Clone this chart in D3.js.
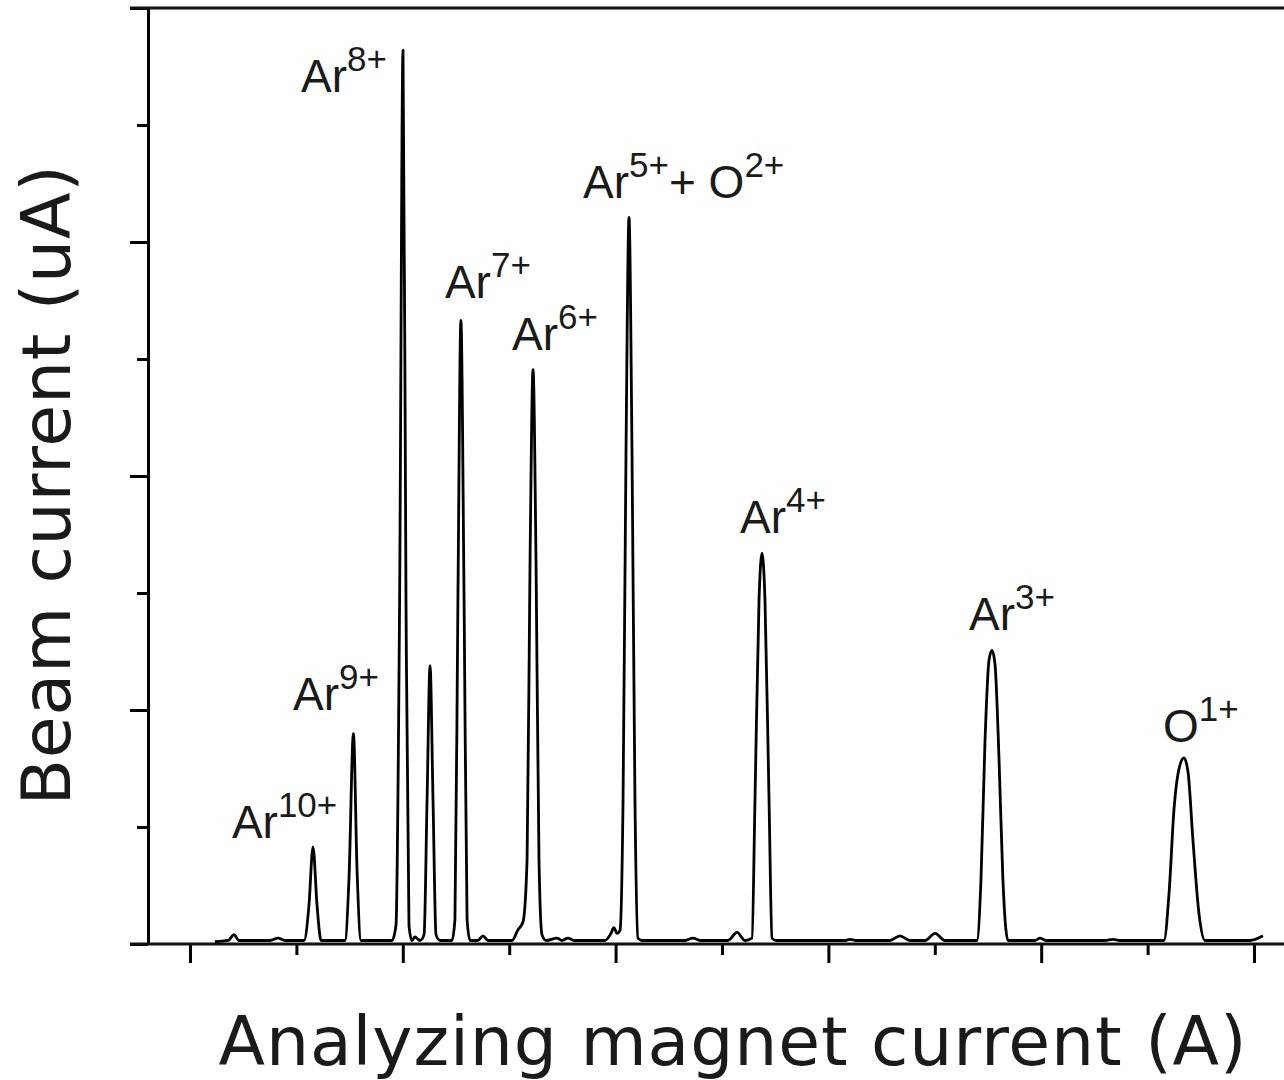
<!DOCTYPE html>
<html>
<head>
<meta charset="utf-8">
<script src="https://cdn.jsdelivr.net/npm/d3@7"></script>
<style>
  body { margin: 0; background: #fff; }
  text { fill: #1a1a1a; }
</style>
</head>
<body>
<svg id="chart" width="1284" height="1080"></svg>
<script>
// spectrum trace
// x: analyzing magnet current (arb. units, major ticks every 10), y: beam current (arb. units)
var magnet = [1.17, 1.79, 2.07, 2.30, 3.76, 4.14, 4.46, 5.36, 5.59, 5.78, 5.97, 6.16,
              7.28, 7.47, 7.68, 7.85, 8.04, 9.49, 9.68, 9.85, 10.01, 10.15, 10.29, 10.43,
              10.57, 10.81, 11.00, 11.14, 11.28, 11.42, 11.56, 11.75, 12.31, 12.45, 12.59, 12.73,
              12.88, 13.02, 13.16, 13.53, 13.77, 14.00, 15.13, 15.41, 15.65, 15.84, 15.98, 16.12,
              16.26, 16.40, 16.54, 16.73, 17.25, 17.48, 17.76, 18.05, 19.50, 19.78, 19.92, 20.07,
              20.21, 20.35, 20.49, 20.63, 20.77, 20.91, 21.05, 21.24, 23.26, 23.64, 23.97, 25.28,
              25.71, 26.08, 26.41, 26.55, 26.74, 26.88, 27.02, 27.21, 27.35, 27.54, 30.78, 31.02,
              31.30, 32.89, 33.36, 33.83, 34.54, 35.01, 35.48, 36.98, 37.17, 37.36, 37.55, 37.69,
              37.83, 38.02, 38.20, 38.44, 39.71, 39.94, 40.23, 43.00, 43.37, 43.70, 45.77, 46.01,
              46.24, 46.48, 46.71, 46.90, 47.13, 47.42, 47.70, 49.81, 50.42];

var beam = [0.02, 0.03, 0.08, 0.03, 0.03, 0.05, 0.03, 0.03, 0.33, 0.83, 0.33, 0.03,
            0.03, 0.55, 1.80, 0.63, 0.03, 0.03, 0.16, 2.94, 7.64, 2.94, 0.16, 0.03,
            0.06, 0.03, 0.08, 1.23, 2.38, 1.23, 0.08, 0.03, 0.03, 0.21, 2.94, 5.33,
            2.94, 0.21, 0.03, 0.03, 0.07, 0.03, 0.03, 0.12, 0.19, 0.72, 3.28, 4.91,
            3.28, 0.72, 0.08, 0.03, 0.05, 0.03, 0.05, 0.03, 0.03, 0.09, 0.14, 0.09,
            0.12, 1.23, 4.22, 6.21, 4.22, 1.23, 0.05, 0.03, 0.03, 0.05, 0.03, 0.03,
            0.10, 0.03, 0.05, 1.23, 2.94, 3.34, 2.94, 1.23, 0.05, 0.03, 0.03, 0.04,
            0.03, 0.03, 0.07, 0.03, 0.03, 0.09, 0.03, 0.03, 0.55, 1.74, 2.43, 2.51,
            2.39, 1.57, 0.55, 0.03, 0.03, 0.05, 0.03, 0.03, 0.04, 0.03, 0.03, 0.44,
            1.15, 1.50, 1.59, 1.47, 0.89, 0.25, 0.03, 0.03, 0.07];

// peak labels
var ionNames   = ["Ar", "Ar", "Ar", "Ar", "Ar", "Ar", "Ar", "Ar", "O"];
var ionCharges = ["10+", "9+", "8+", "7+", "6+", "5+", "4+", "3+", "1+"];
var extraNames   = ["", "", "", "", "", "+ O", "", "", ""];
var extraCharges = ["", "", "", "", "", "2+", "", "", ""];

// tick values
var xMajor = [0, 10, 20, 30, 40, 50];
var xMinor = [5, 15, 25, 35, 45];
var yMajor = [0, 2, 4, 6, 8];
var yMinor = [1, 3, 5, 7];

// where each label sits (data units, start of text / baseline)
var labelAt = [[1.97, 0.91], [4.84, 2.0], [5.22, 7.28], [11.98, 5.52], [15.13, 5.08],
               [18.47, 6.38], [25.85, 3.51], [36.61, 2.68], [45.72, 1.73]];

var svg = d3.select("#chart");
var W = 1284, H = 1080;

var x = d3.scaleLinear().domain([0, 50]).range([190, 1254]);
var y = d3.scaleLinear().domain([0, 8]).range([944, 8]);

var axisColor = "#111";

// y axis, ticks outward
svg.append("g")
    .attr("transform", "translate(148,0)")
    .call(d3.axisLeft(y).tickValues(yMajor).tickSize(18).tickSizeOuter(0).tickFormat(""))
    .call(function (g) {
        g.select(".domain").attr("stroke-width", 3);
        g.selectAll(".tick line").attr("stroke-width", 3);
    });
svg.append("g")
    .attr("transform", "translate(148,0)")
    .call(d3.axisLeft(y).tickValues(yMinor).tickSize(11).tickSizeOuter(0).tickFormat(""))
    .call(function (g) {
        g.select(".domain").remove();
        g.selectAll(".tick line").attr("stroke-width", 3);
    });

// x axis
svg.append("g")
    .attr("transform", "translate(0,944)")
    .call(d3.axisBottom(x).tickValues(xMajor).tickSize(19).tickSizeOuter(0).tickFormat(""))
    .call(function (g) {
        g.select(".domain").remove();
        g.selectAll(".tick line").attr("stroke-width", 3);
    });
svg.append("g")
    .attr("transform", "translate(0,944)")
    .call(d3.axisBottom(x).tickValues(xMinor).tickSize(11).tickSizeOuter(0).tickFormat(""))
    .call(function (g) {
        g.select(".domain").remove();
        g.selectAll(".tick line").attr("stroke-width", 3);
    });

// base line and top frame line
svg.append("line")
    .attr("x1", 130).attr("x2", W)
    .attr("y1", y(0)).attr("y2", y(0))
    .attr("stroke", axisColor).attr("stroke-width", 3);
svg.append("line")
    .attr("x1", 130).attr("x2", W)
    .attr("y1", y(8)).attr("y2", y(8))
    .attr("stroke", axisColor).attr("stroke-width", 3);

// the trace
var pts = magnet.map(function (m, i) { return [m, beam[i]]; });
var line = d3.line()
    .x(function (d) { return x(d[0]); })
    .y(function (d) { return y(d[1]); })
    .curve(d3.curveMonotoneX);

svg.append("path")
    .datum(pts)
    .attr("d", line)
    .attr("fill", "none")
    .attr("stroke", "#000")
    .attr("stroke-width", 2.8)
    .attr("stroke-linejoin", "round");

// peak labels with superscript charges
var lab = svg.selectAll("text.ion")
    .data(ionNames)
    .enter()
    .append("text")
    .attr("class", "ion")
    .attr("x", function (d, i) { return x(labelAt[i][0]); })
    .attr("y", function (d, i) { return y(labelAt[i][1]); })
    .style("font-family", "'Liberation Sans', Arial, sans-serif");

lab.append("tspan")
    .style("font-size", "46px")
    .text(function (d) { return d; });
lab.append("tspan")
    .style("font-size", "35px")
    .attr("dy", -21)
    .text(function (d, i) { return ionCharges[i]; });
lab.each(function (d, i) {
    if (extraNames[i] === "") return;
    var t = d3.select(this);
    t.append("tspan")
        .style("font-size", "46px")
        .attr("dy", 21)
        .text(extraNames[i]);
    t.append("tspan")
        .style("font-size", "35px")
        .attr("dy", -21)
        .text(extraCharges[i]);
});

// axis titles
svg.append("text")
    .attr("x", 733)
    .attr("y", 1065)
    .attr("text-anchor", "middle")
    .style("font-family", "'DejaVu Sans', sans-serif")
    .style("font-size", "68px")
    .style("letter-spacing", "0.9px")
    .text("Analyzing magnet current (A)");

svg.append("text")
    .attr("transform", "translate(70,485) rotate(-90)")
    .attr("text-anchor", "middle")
    .style("font-family", "'DejaVu Sans', sans-serif")
    .style("font-size", "68px")
    .style("letter-spacing", "0.8px")
    .text("Beam current (uA)");
</script>
</body>
</html>
